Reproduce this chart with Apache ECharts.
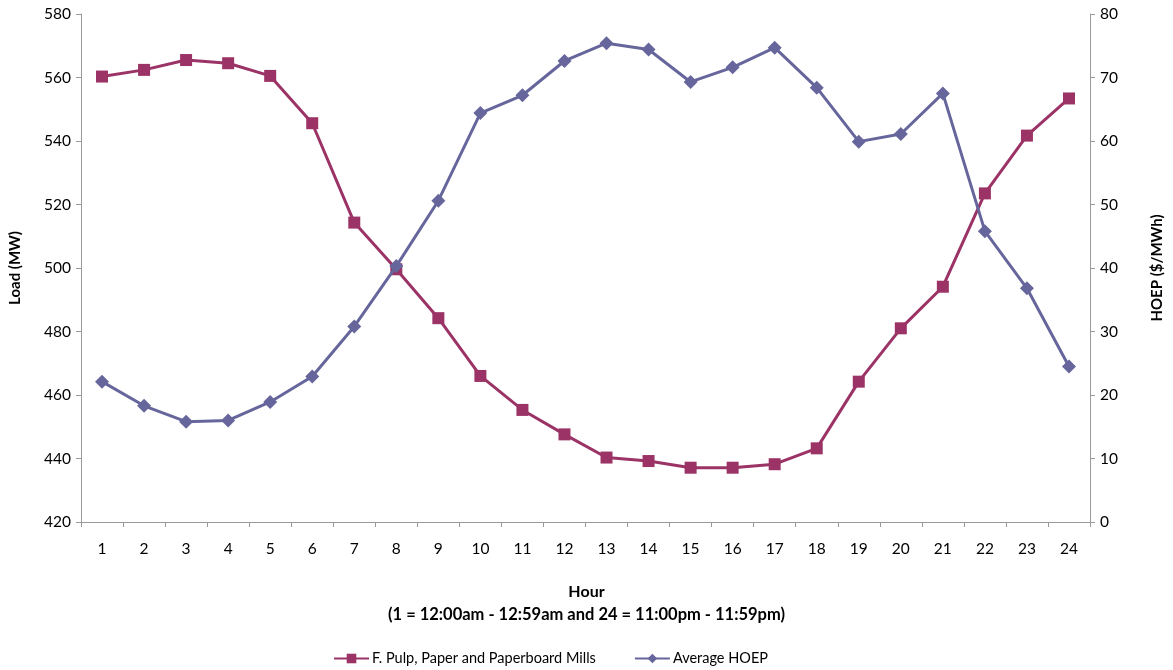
<!DOCTYPE html>
<html>
<head>
<meta charset="utf-8">
<title>Load and Average HOEP by Hour</title>
<script src="https://cdn.jsdelivr.net/npm/echarts@6/dist/echarts.min.js"></script>
<style>
  html, body { margin: 0; padding: 0; background: #ffffff; }
  #chart { width: 1173px; height: 670px; }
</style>
</head>
<body>
<div id="chart"></div>
<script>
// Hour of day (1 = first hour)
const hours = ['1','2','3','4','5','6','7','8','9','10','11','12','13','14','15','16','17','18','19','20','21','22','23','24'];

// Hourly load, MW (left axis)
const pulpLoad = [560.3, 562.4, 565.5, 564.5, 560.5, 545.6, 514.3, 499.6, 484.2, 466.0, 455.3, 447.6,
                  440.3, 439.2, 437.1, 437.1, 438.2, 443.2, 464.2, 481.0, 494.1, 523.5, 541.7, 553.4];

// Average Hourly Ontario Energy Price, $/MWh (right axis)
const avgHoep = [22.1, 18.3, 15.8, 16.0, 18.9, 22.9, 30.8, 40.3, 50.6, 64.4, 67.2, 72.6,
                 75.4, 74.4, 69.3, 71.6, 74.7, 68.4, 59.9, 61.1, 67.5, 45.8, 36.8, 24.5];

const seriesNames = ['F. Pulp, Paper and Paperboard Mills', 'Average HOEP'];

const FONT = 'Lato, "Open Sans", sans-serif';
const AXIS_GRAY = '#9a9a9a';
const PULP_COLOR = '#9b3366';
const HOEP_COLOR = '#66669c';

const chart = echarts.init(document.getElementById('chart'), null, { renderer: 'canvas' });

const yAxisCommon = {
  type: 'value',
  splitLine: { show: false },
  axisLine: { show: true, lineStyle: { color: AXIS_GRAY, width: 1 } },
  axisTick: { show: true, length: 5, lineStyle: { color: AXIS_GRAY } },
  axisLabel: { color: '#000', fontFamily: FONT, fontSize: 15.5, margin: 10 },
  nameLocation: 'middle',
  nameRotate: 90,
  nameTextStyle: { color: '#000', fontFamily: FONT, fontSize: 15, fontWeight: 'bold' }
};

chart.setOption({
  animation: false,
  backgroundColor: '#ffffff',
  grid: { left: 78, right: 76, top: 14, bottom: 148, containLabel: false },
  legend: {
    data: seriesNames,
    top: 646,
    left: 328,
    itemWidth: 35,
    itemHeight: 12,
    itemGap: 38,
    textStyle: { color: '#000', fontFamily: FONT, fontSize: 14.5, padding: [0, 0, 0, -2] }
  },
  xAxis: {
    type: 'category',
    data: hours,
    boundaryGap: true,
    axisLine: { show: true, lineStyle: { color: AXIS_GRAY, width: 1 } },
    axisTick: { show: true, length: 5, interval: 0, lineStyle: { color: AXIS_GRAY } },
    axisLabel: { color: '#000', fontFamily: FONT, fontSize: 15.5, margin: 19, interval: 0 },
    splitLine: { show: false }
  },
  yAxis: [
    Object.assign({}, yAxisCommon, {
      position: 'left',
      min: 420, max: 580, interval: 20,
      name: 'Load (MW)',
      nameGap: 58
    }),
    Object.assign({}, yAxisCommon, {
      position: 'right',
      min: 0, max: 80, interval: 10,
      name: 'HOEP ($/MWh)',
      nameGap: 60
    })
  ],
  graphic: [
    {
      type: 'text',
      left: 'center',
      top: 584,
      style: {
        text: 'Hour',
        fill: '#000',
        font: 'bold 16px ' + FONT,
        align: 'center'
      }
    },
    {
      type: 'text',
      left: 'center',
      top: 606,
      style: {
        text: '(1 = 12:00am - 12:59am and 24 = 11:00pm - 11:59pm)',
        fill: '#000',
        font: 'bold 16.5px ' + FONT,
        align: 'center'
      }
    }
  ],
  series: [
    {
      name: seriesNames[0],
      type: 'line',
      yAxisIndex: 0,
      data: pulpLoad,
      symbol: 'rect',
      symbolSize: 12,
      itemStyle: { color: PULP_COLOR },
      lineStyle: { color: PULP_COLOR, width: 3 },
      z: 2
    },
    {
      name: seriesNames[1],
      type: 'line',
      yAxisIndex: 1,
      data: avgHoep,
      symbol: 'diamond',
      symbolSize: 14,
      itemStyle: { color: HOEP_COLOR },
      lineStyle: { color: HOEP_COLOR, width: 3 },
      z: 3
    }
  ]
});
</script>
</body>
</html>
